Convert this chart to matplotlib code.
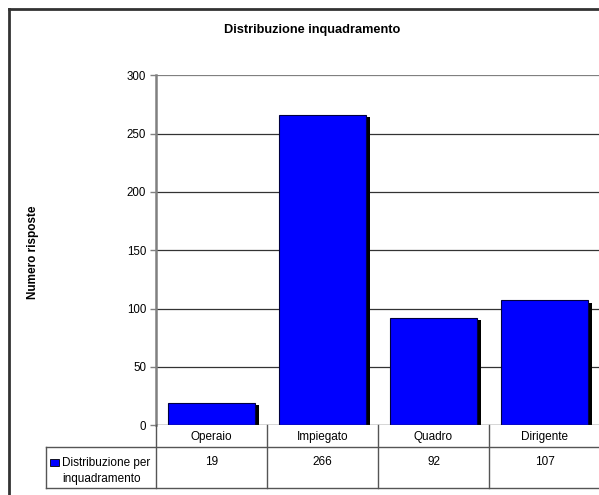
import matplotlib.pyplot as plt
import matplotlib.transforms as mtransforms
from matplotlib.lines import Line2D
from matplotlib.patches import Rectangle

plt.rcParams["font.family"] = ["Liberation Sans", "DejaVu Sans"]

# dati
categorie = ["Operaio", "Impiegato", "Quadro", "Dirigente"]
valori = [19, 266, 92, 107]
serie = "Distribuzione per\ninquadramento"
titolo = "Distribuzione inquadramento"
ylabel = "Numero risposte"
yticks = [0, 50, 100, 150, 200, 250, 300]

W, H = 599, 495
fig = plt.figure(figsize=(W / 100, H / 100), dpi=100)


def fx(px):
    return px / W


def fy(py):
    return 1 - py / H


# area del grafico
ax = fig.add_axes([fx(156), fy(425.3), fx(600) - fx(156), fy(75.3) - fy(425.3)])
x = range(len(categorie))
ax.set_xlim(-0.5, len(categorie) - 0.5)
ax.set_ylim(0, 300)

# griglia
for t in yticks[1:]:
    ax.axhline(t, color="#333333" if t < 300 else "#808080", lw=0.9, zorder=0)

# ombre + barre
ax.bar([i + 0.036 for i in x], [v - 2.0 for v in valori], width=0.775,
       color="black", zorder=1)
ax.bar(x, valori, width=0.775, color="#0000ff", edgecolor="#000040",
       linewidth=0.8, zorder=2)

for s in ["top", "right", "bottom"]:
    ax.spines[s].set_visible(False)
ax.spines["left"].set_color("#808080")
ax.spines["left"].set_linewidth(1.8)
ax.axhline(0, color="#333333", lw=1.0, zorder=3)
ax.set_yticks(yticks)
ax.tick_params(axis="y", length=4, width=1, color="#808080", labelsize=8.3, pad=3)
ax.set_xticks([])

fig.text(fx(312), fy(30), titolo, ha="center", va="center",
         fontsize=9.2, fontweight="bold")
fig.text(fx(33), fy(252), ylabel, ha="center", va="center", rotation=90,
         fontsize=8.5, fontweight="bold")

# tabella dati
tr = mtransforms.blended_transform_factory(ax.transData, fig.transFigure)
lc = "#555555"
for i in range(len(categorie) + 1):
    xb = i - 0.5
    fig.add_artist(Line2D([xb, xb], [fy(425), fy(487.5)], transform=tr, color=lc, lw=1))
for yy in [446.5, 487.5]:
    fig.add_artist(Line2D([fx(46), fx(600)], [fy(yy), fy(yy)], color=lc, lw=1))
fig.add_artist(Line2D([fx(46), fx(46)], [fy(446.5), fy(487.5)], color=lc, lw=1))

for i, (c, v) in enumerate(zip(categorie, valori)):
    fig.text(i, fy(437), c, transform=tr, ha="center", va="center", fontsize=8.5)
    fig.text(i, fy(462), str(v), transform=tr, ha="center", va="center", fontsize=8.5)

fig.add_artist(Rectangle((fx(50), fy(465.5)), fx(9), fy(458.5) - fy(465.5),
                         facecolor="#0000ff", edgecolor="black", lw=0.6,
                         transform=fig.transFigure))
fig.text(fx(62), fy(471), serie, ha="left", va="center", fontsize=8.5,
         linespacing=1.35)

# bordo esterno
fig.add_artist(Line2D([fx(9), fx(9)], [fy(9), 0], color="#333333", lw=2))
fig.add_artist(Line2D([fx(9), 1], [fy(9), fy(9)], color="#333333", lw=2))

fig.savefig("out.png", dpi=100)
